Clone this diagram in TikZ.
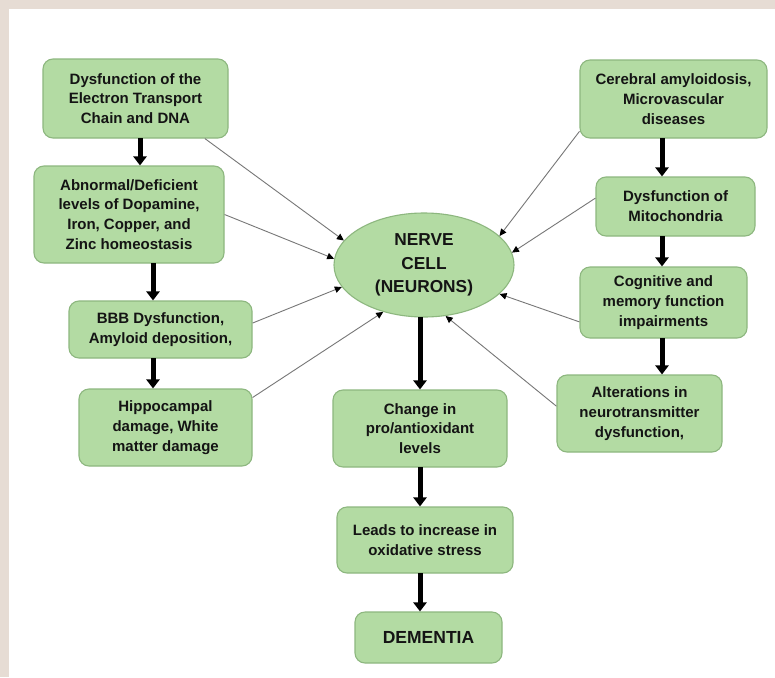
\documentclass[tikz,border=0pt]{standalone}
\usepackage{fontspec}
\setmainfont{Liberation Sans}
\usetikzlibrary{arrows.meta,shapes.geometric}
\definecolor{beige}{HTML}{E6DCD4}
\definecolor{boxfill}{HTML}{B3DBA3}
\definecolor{boxline}{HTML}{8DB77F}
\definecolor{txt}{HTML}{141414}
\definecolor{thin}{HTML}{777777}
\tikzset{
  gbox/.style={draw=boxline, fill=boxfill, line width=1.1pt, rounded corners=10pt,
    align=center, inner sep=0pt, text=txt,
    font=\fontsize{15}{19.8}\selectfont\bfseries},
  thk/.style={line width=5pt, black, -{Triangle[width=13pt,length=9pt]}, shorten <=-0.5pt},
  thn/.style={draw=thin, line width=0.9pt, -{Triangle[width=6.5pt,length=7pt,color=black]}}
}
\begin{document}
\begin{tikzpicture}[x=1pt,y=-1pt]
\useasboundingbox (0,0) rectangle (775,677);
\fill[beige] (0,0) rectangle (775,677);
\fill[white] (9,9) rectangle (775,677);

\node[gbox, minimum width=185pt, minimum height=79pt] (b1) at (135.5,98.5) {Dysfunction of the\\Electron Transport\\Chain and DNA};
\node[gbox, minimum width=190pt, minimum height=97pt] (b2) at (129,214.5) {Abnormal/Deficient\\levels of Dopamine,\\Iron, Copper, and\\Zinc homeostasis};
\node[gbox, minimum width=183pt, minimum height=57pt] (b3) at (160.5,329.5) {BBB Dysfunction,\\Amyloid deposition,};
\node[gbox, minimum width=173pt, minimum height=77pt] (b4) at (165.5,427.5) {Hippocampal\\damage, White\\matter damage};

\node[gbox, minimum width=187pt, minimum height=78pt] (b6) at (673.5,99) {Cerebral amyloidosis,\\Microvascular\\diseases};
\node[gbox, minimum width=159pt, minimum height=59pt] (b7) at (675.5,206.5) {Dysfunction of\\Mitochondria};
\node[gbox, minimum width=167pt, minimum height=71pt] (b8) at (663.5,302.5) {Cognitive and\\memory function\\impairments};
\node[gbox, minimum width=165pt, minimum height=77pt] (b9) at (639.5,413.5) {Alterations in\\neurotransmitter\\dysfunction,};

\node[gbox, minimum width=174pt, minimum height=77pt] (b10) at (420,428.5) {Change in\\pro/antioxidant\\levels};
\node[gbox, minimum width=176pt, minimum height=66pt] (b11) at (425,540) {Leads to increase in\\oxidative stress};
\node[gbox, minimum width=147pt, minimum height=51pt, font=\fontsize{17.5}{20}\selectfont\bfseries] (b12) at (428.5,637.5) {DEMENTIA};

\node[ellipse, draw=boxline, fill=boxfill, line width=1.1pt, minimum width=180pt, minimum height=104pt,
  inner sep=0pt, align=center, text=txt, font=\fontsize{17.3}{23.5}\selectfont\bfseries] (nc) at (424,265) {NERVE\\CELL\\(NEURONS)};

\coordinate (cl1) at (140,0);
\coordinate (cl2) at (153,0);
\coordinate (cr) at (662,0);

\draw[thk] (b1.south -| cl1) -- (b2.north -| cl1);
\draw[thk] (b2.south -| cl2) -- (b3.north -| cl2);
\draw[thk] (b3.south -| cl2) -- (b4.north -| cl2);
\draw[thk] (b6.south -| cr) -- (b7.north -| cr);
\draw[thk] (b7.south -| cr) -- (b8.north -| cr);
\draw[thk] (b8.south -| cr) -- (b9.north -| cr);
\draw[thk] (nc.south -| b10.north) -- (b10.north);
\draw[thk] (b10.south) -- (b10.south |- b11.north);
\draw[thk] (b10.south |- b11.south) -- (b10.south |- b12.north);

\draw[thn] (b1.330) -- (nc.163.4);
\draw[thn] (b2.east) -- (nc.176.2);
\draw[thn] (b3.4) -- (nc.195.1);
\draw[thn] (b4.19.4) -- (nc.229.5);
\draw[thn] (b6.199.8) -- (nc.21);
\draw[thn] (b7.174.2) -- (nc.8.7);
\draw[thn] (b8.193.8) -- (nc.339.2);
\draw[thn] (b9.175.4) -- (nc.293.1);
\end{tikzpicture}
\end{document}
